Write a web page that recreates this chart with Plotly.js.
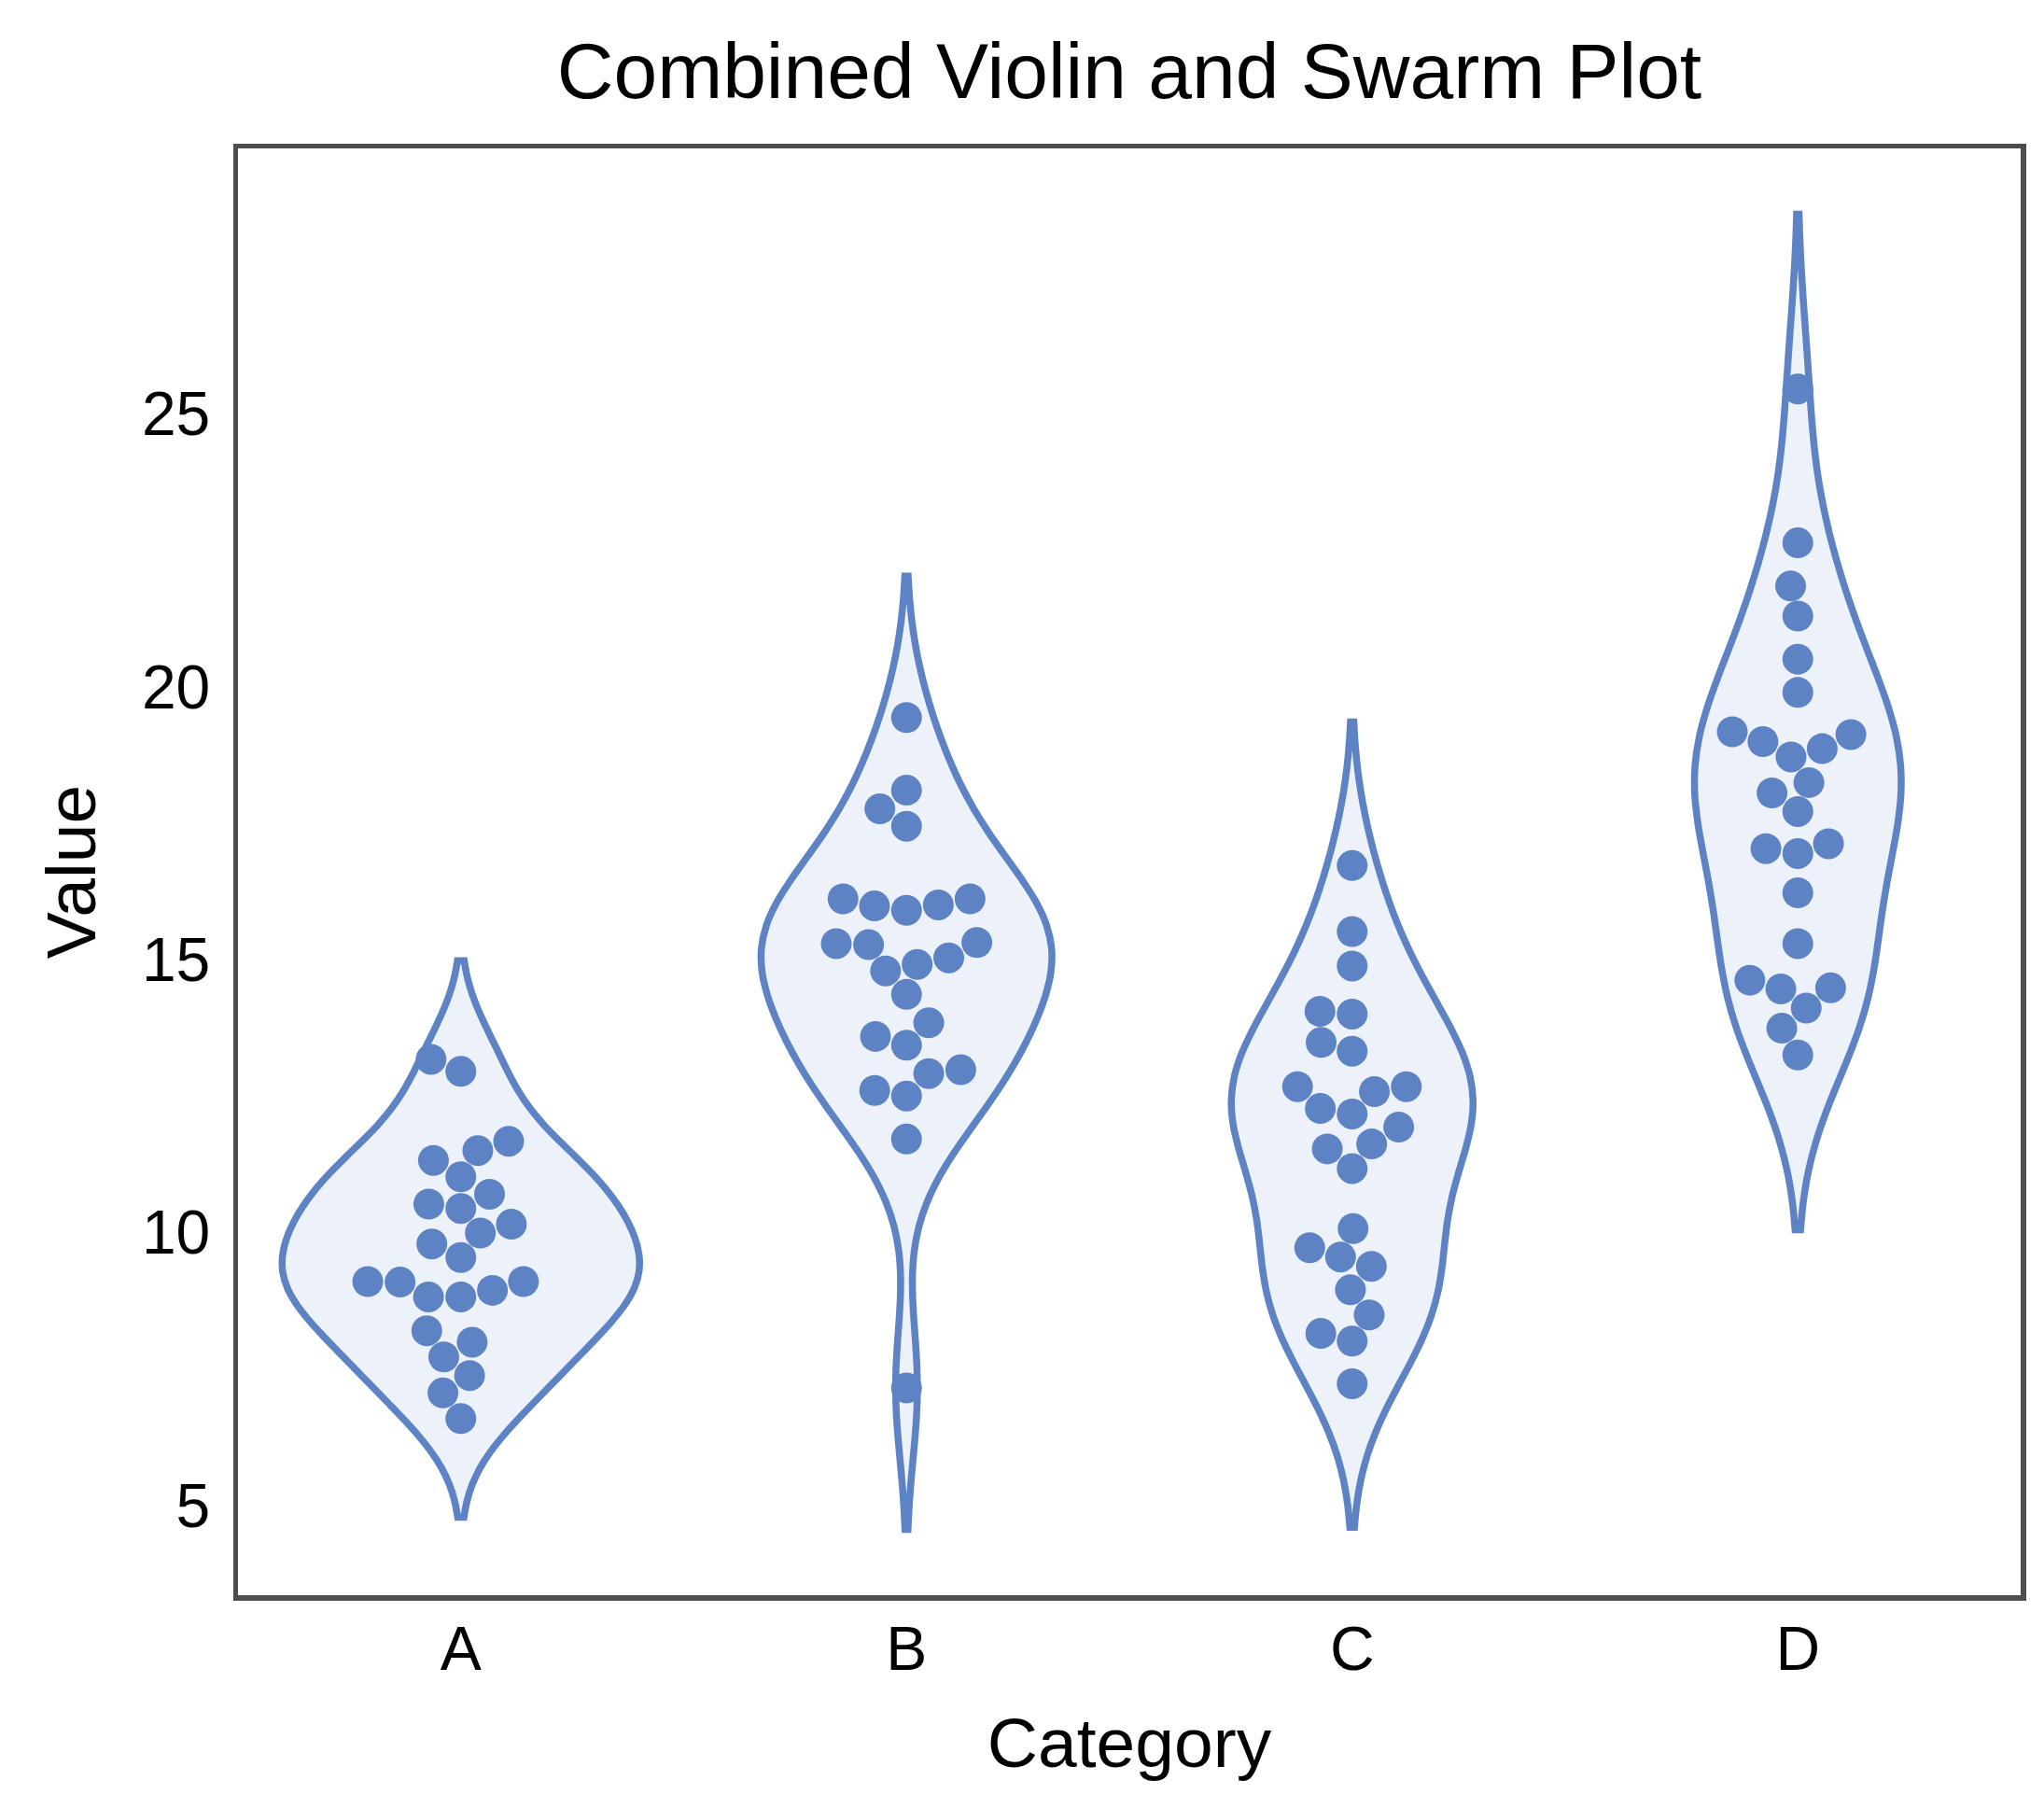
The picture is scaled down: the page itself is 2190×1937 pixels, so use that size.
<!DOCTYPE html>
<html>
<head>
<meta charset="utf-8">
<script src="https://cdn.plot.ly/plotly-3.0.1.min.js"></script>
<style>
  html, body { margin: 0; padding: 0; background: #ffffff; }
  #chart { width: 2190px; height: 1937px; }
</style>
</head>
<body>
<div id="chart"></div>
<script>
// categories and values
const categories = ["A", "B", "C", "D"];
const valuesA = [12.95, 13.17, 11.67, 11.50, 11.32, 11.02, 10.52, 10.44, 10.70, 9.99, 10.15, 9.79, 9.54,
                 9.10, 9.09, 8.82, 8.82, 8.94, 9.10, 8.20, 7.99, 7.72, 7.38, 7.06, 6.59];
const valuesB = [19.43, 18.10, 17.76, 17.44, 16.11, 15.98, 15.90, 16.00, 16.11, 15.29, 15.27, 15.31, 14.79,
                 14.91, 15.03, 14.36, 13.84, 13.59, 13.43, 12.91, 12.98, 12.60, 12.50, 11.71, 7.15];
const valuesC = [16.72, 15.51, 14.88, 14.00, 14.05, 13.48, 13.32, 12.67, 12.27, 12.17, 12.58, 12.67, 11.93,
                 11.53, 11.62, 11.17, 10.07, 9.72, 9.55, 9.38, 8.95, 8.49, 8.15, 8.01, 7.23];
const valuesD = [25.45, 22.63, 21.84, 21.29, 20.50, 19.89, 19.17, 18.99, 18.71, 18.86, 19.12, 18.05, 18.24,
                 17.71, 17.03, 16.94, 17.12, 16.22, 15.29, 14.62, 14.46, 14.48, 14.11, 13.74, 13.25];
const groups = [valuesA, valuesB, valuesC, valuesD];
const yTicks = [5, 10, 15, 20, 25];

const blue = "#5e83c4";
const fill = "#edf2fa";
const font = "Liberation Sans, Arial, sans-serif";

const W = 2190, H = 1937;
const margin = { l: 255, r: 25, t: 159, b: 228, pad: 0 };
const dotSize = 33;

// scott bandwidth, like seaborn
function scottBw(vals) {
  const n = vals.length;
  const mean = vals.reduce((a, b) => a + b, 0) / n;
  const sd = Math.sqrt(vals.reduce((a, v) => a + (v - mean) ** 2, 0) / (n - 1));
  return sd * Math.pow(n, -0.2);
}

function kdePeak(vals, bw) {
  const lo = Math.min(...vals) - 2 * bw, hi = Math.max(...vals) + 2 * bw;
  let peak = 0;
  for (let s = 0; s <= 500; s++) {
    const t = lo + (hi - lo) * s / 500;
    let d = 0;
    for (const v of vals) d += Math.exp(-0.5 * ((t - v) / bw) ** 2);
    peak = Math.max(peak, d / (vals.length * bw * Math.sqrt(2 * Math.PI)));
  }
  return peak;
}

const bws = groups.map(scottBw);
const peaks = groups.map((g, i) => kdePeak(g, bws[i]));
const maxPeak = Math.max(...peaks);
const widths = peaks.map(p => 0.8 * p / maxPeak);

// y range: violin extent + 5% margin
const lo = Math.min(...groups.map((g, i) => Math.min(...g) - 2 * bws[i]));
const hi = Math.max(...groups.map((g, i) => Math.max(...g) + 2 * bws[i]));
const yRange = [lo - 0.05 * (hi - lo), hi + 0.05 * (hi - lo)];
const xRange = [-0.5, categories.length - 0.5];

const ppx = (W - margin.l - margin.r) / (xRange[1] - xRange[0]);
const ppy = (H - margin.t - margin.b) / (yRange[1] - yRange[0]);

// beeswarm placement in pixels (same idea as seaborn)
function swarmOffsets(vals) {
  const d = dotSize;
  const pts = vals.map((v, i) => ({ i: i, y: v * ppy, x: 0 }));
  pts.sort((a, b) => a.y - b.y);
  const placed = [];
  for (const p of pts) {
    const nb = [];
    for (let k = placed.length - 1; k >= 0; k--) {
      if (p.y - placed[k].y < d) nb.push(placed[k]); else break;
    }
    const cands = [0];
    let leftFirst = true;
    for (const n of nb) {
      const dy = p.y - n.y;
      const dx = Math.sqrt(Math.max(d * d - dy * dy, 0)) * 1.05;
      if (leftFirst) cands.push(n.x - dx, n.x + dx); else cands.push(n.x + dx, n.x - dx);
      leftFirst = !leftFirst;
    }
    const order = cands.map((c, k) => [Math.abs(c), k, c]).sort((a, b) => a[0] - b[0] || a[1] - b[1]);
    let chosen = 0;
    for (const o of order) {
      const c = o[2];
      if (nb.every(n => (n.x - c) ** 2 + (n.y - p.y) ** 2 >= d * d - 1e-6)) { chosen = c; break; }
    }
    p.x = chosen;
    placed.push(p);
  }
  const out = new Array(vals.length);
  pts.forEach(p => { out[p.i] = p.x / ppx; });
  return out;
}

const data = [];
groups.forEach((g, i) => {
  data.push({
    type: "violin",
    x0: i,
    y: g,
    name: categories[i],
    bandwidth: bws[i],
    width: widths[i],
    spanmode: "soft",
    points: false,
    box: { visible: false },
    meanline: { visible: false },
    fillcolor: fill,
    line: { color: blue, width: 7.5 },
    hoverinfo: "skip",
    showlegend: false
  });
});
groups.forEach((g, i) => {
  const off = swarmOffsets(g);
  data.push({
    type: "scatter",
    mode: "markers",
    x: off.map(o => i + o),
    y: g,
    marker: { size: dotSize, color: blue, line: { width: 0 } },
    hoverinfo: "skip",
    showlegend: false
  });
});

const layout = {
  width: W,
  height: H,
  margin: margin,
  paper_bgcolor: "#ffffff",
  plot_bgcolor: "#ffffff",
  violinmode: "overlay",
  font: { family: font, color: "#000000" },
  title: {
    text: "Combined Violin and Swarm Plot",
    font: { family: font, size: 84, color: "#000000" },
    x: 0.5, xref: "paper", xanchor: "center",
    y: 0.9764, yref: "container", yanchor: "top"
  },
  xaxis: {
    range: xRange,
    tickvals: categories.map((c, i) => i),
    ticktext: categories,
    tickfont: { size: 66 },
    ticks: "",
    ticklabelstandoff: -5,
    showgrid: false,
    zeroline: false,
    showline: true, mirror: true, linecolor: "#4d4d4d", linewidth: 5.5,
    title: { text: "Category", font: { size: 75 }, standoff: 41 }
  },
  yaxis: {
    range: yRange,
    tickvals: yTicks,
    tickfont: { size: 66 },
    ticks: "",
    ticklabelstandoff: 11,
    showgrid: false,
    zeroline: false,
    showline: true, mirror: true, linecolor: "#4d4d4d", linewidth: 5.5,
    title: { text: "Value", font: { size: 75 }, standoff: 26 }
  }
};

Plotly.newPlot("chart", data, layout, { staticPlot: true });
</script>
</body>
</html>
